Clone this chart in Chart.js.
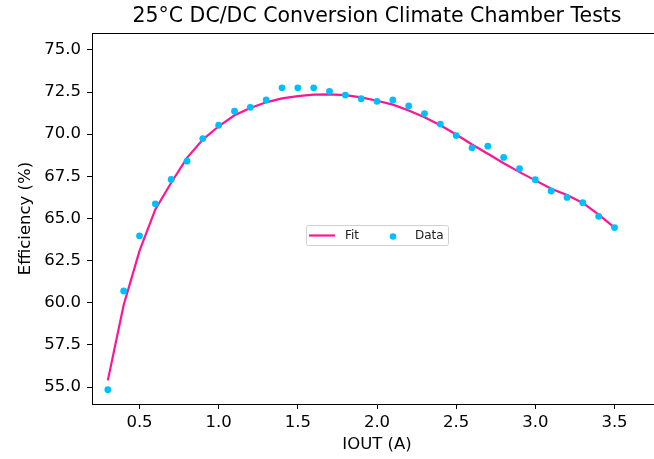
<!DOCTYPE html>
<html>
<head>
<meta charset="utf-8">
<script src="https://cdn.jsdelivr.net/npm/chart.js@4"></script>
<style>
  html, body { margin: 0; padding: 0; background: #fff; overflow: hidden; width: 654px; height: 459px; }
  canvas { display: block; }
</style>
</head>
<body>
<canvas id="effChart" width="670" height="459"></canvas>
<script>
// --- data ---
const ioutValues = [0.3, 0.4, 0.5, 0.6, 0.7, 0.8, 0.9, 1.0, 1.1, 1.2, 1.3, 1.4, 1.5, 1.6, 1.7, 1.8,
    1.9, 2.0, 2.1, 2.2, 2.3, 2.4, 2.5, 2.6, 2.7, 2.8, 2.9, 3.0, 3.1, 3.2, 3.3, 3.4, 3.5];
const measuredEff = [54.85, 60.7, 63.97, 65.87, 67.32, 68.4, 69.74, 70.53, 71.36, 71.59, 72.03, 72.75,
    72.75, 72.75, 72.54, 72.32, 72.1, 71.95, 72.03, 71.67, 71.22, 70.6, 69.92, 69.19, 69.29, 68.62,
    67.95, 67.3, 66.63, 66.25, 65.94, 65.13, 64.46];
const fitEff = [55.4, 59.87, 63.08, 65.54, 67.12, 68.6, 69.68, 70.47, 71.12, 71.55, 71.89, 72.12,
    72.26, 72.34, 72.36, 72.32, 72.18, 71.98, 71.75, 71.4, 71.0, 70.53, 69.98, 69.39, 68.84, 68.28,
    67.75, 67.26, 66.77, 66.39, 65.92, 65.23, 64.46];
const xTickValues = [0.5, 1.0, 1.5, 2.0, 2.5, 3.0, 3.5];
const yTickValues = [55.0, 57.5, 60.0, 62.5, 65.0, 67.5, 70.0, 72.5, 75.0];

const FONT = "'DejaVu Sans', sans-serif";

// top spine, title and in-axes legend (matplotlib style)
const framePlugin = {
    id: 'frame',
    afterDraw(chart) {
        const { ctx, chartArea: a } = chart;
        ctx.save();
        ctx.strokeStyle = '#000';
        ctx.lineWidth = 1;
        ctx.beginPath();
        ctx.moveTo(a.left, a.top + 0.5);
        ctx.lineTo(chart.width, a.top + 0.5);
        ctx.stroke();

        ctx.fillStyle = '#000';
        ctx.font = '20.5px ' + FONT;
        ctx.textAlign = 'center';
        ctx.textBaseline = 'middle';
        ctx.fillText('25\u00B0C DC/DC Conversion Climate Chamber Tests', (a.left + a.right) / 2, 17);

        // legend
        const lx = a.left + 214, ly = a.top + 192, lw = 142, lh = 20;
        ctx.fillStyle = 'rgba(255,255,255,0.8)';
        ctx.strokeStyle = '#d0d0d0';
        ctx.beginPath();
        ctx.roundRect(lx + 0.5, ly + 0.5, lw, lh, 2);
        ctx.fill();
        ctx.stroke();

        const cy = ly + lh / 2 + 0.5;
        const fit = chart.data.datasets[0], pts = chart.data.datasets[1];
        ctx.strokeStyle = fit.borderColor;
        ctx.lineWidth = 2.2;
        ctx.beginPath();
        ctx.moveTo(lx + 3, cy);
        ctx.lineTo(lx + 29, cy);
        ctx.stroke();
        ctx.fillStyle = pts.backgroundColor;
        ctx.beginPath();
        ctx.arc(lx + 87, cy + 1, 3.3, 0, Math.PI * 2);
        ctx.fill();

        ctx.fillStyle = '#222';
        ctx.font = '12px ' + FONT;
        ctx.textAlign = 'left';
        ctx.fillText(fit.label, lx + 39, cy);
        ctx.fillText(pts.label, lx + 109, cy);
        ctx.restore();
    }
};

const ctx = document.getElementById('effChart').getContext('2d');
const effChart = new Chart(ctx, {
    type: 'scatter',
    data: {
        datasets: [
            {
                label: 'Fit',
                data: ioutValues.map((x, i) => ({ x: x, y: fitEff[i] })),
                showLine: true,
                borderColor: '#FF1493',
                borderWidth: 2.2,
                pointRadius: 0,
                tension: 0,
                order: 2
            },
            {
                label: 'Data',
                data: ioutValues.map((x, i) => ({ x: x, y: measuredEff[i] })),
                backgroundColor: '#00BFFF',
                borderWidth: 0,
                pointRadius: 3.4,
                order: 1
            }
        ]
    },
    options: {
        responsive: false,
        animation: false,
        layout: { padding: { left: 0, top: 33, right: 8, bottom: 0 } },
        plugins: { legend: { display: false }, tooltip: { enabled: false }, title: { display: false } },
        scales: {
            x: {
                type: 'linear',
                min: 0.2,
                max: 3.8,
                afterBuildTicks: (s) => { s.ticks = xTickValues.map(v => ({ value: v })); },
                afterFit: (s) => { s.height = 55; },
                grid: { drawOnChartArea: false, drawTicks: true, tickLength: 5, color: '#000' },
                border: { display: true, color: '#000', width: 1 },
                ticks: {
                    color: '#000', padding: 4, maxRotation: 0,
                    font: { family: FONT, size: 16.5 },
                    callback: (v) => Number(v).toFixed(1)
                },
                title: {
                    display: true, text: 'IOUT (A)', color: '#000',
                    font: { family: FONT, size: 16.5 }, padding: { top: 0, bottom: 4 }
                }
            },
            y: {
                type: 'linear',
                min: 54,
                max: 76,
                afterBuildTicks: (s) => { s.ticks = yTickValues.map(v => ({ value: v })); },
                afterFit: (s) => { s.width = 92; },
                grid: { drawOnChartArea: false, drawTicks: true, tickLength: 5, color: '#000' },
                border: { display: true, color: '#000', width: 1 },
                ticks: {
                    color: '#000', padding: 6,
                    font: { family: FONT, size: 16.5 },
                    callback: (v) => Number(v).toFixed(1)
                },
                title: {
                    display: true, text: 'Efficiency (%)', color: '#000',
                    font: { family: FONT, size: 16.5 }, padding: { top: 16, bottom: 0 }
                }
            }
        }
    },
    plugins: [framePlugin]
});
</script>
</body>
</html>
